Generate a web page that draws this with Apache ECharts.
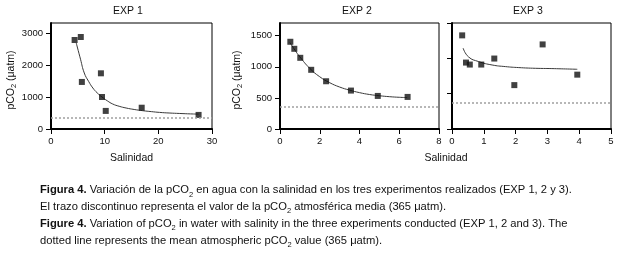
<!DOCTYPE html>
<html>
<head>
<meta charset="utf-8">
<script src="https://cdn.jsdelivr.net/npm/echarts@6/dist/echarts.min.js"></script>
<style>
  html, body { margin: 0; padding: 0; background: #fff; }
  #chart { width: 618px; height: 256px; }
</style>
</head>
<body>
<div id="chart"></div>
<script>
const exp1Sal = [4.4, 5.55, 5.75, 9.3, 9.5, 10.2, 16.9, 27.5]
const exp1Pco2 = [2780, 2875, 1470, 1740, 1000, 565, 665, 440]
const exp1FitSal = [4.7, 5.5, 6.2, 7.0, 7.8, 8.6, 9.5, 10.5, 11.5, 12.7, 14.0, 15.5, 17.1, 18.7, 20.2, 22, 24, 26, 27.5]
const exp1FitPco2 = [2690, 2180, 1750, 1490, 1281, 1130, 1000, 880, 781, 710, 656, 610, 572, 543, 519, 500, 485, 472, 465]

// EXP 2
const exp2Sal = [0.52, 0.72, 1.02, 1.57, 2.32, 3.57, 4.92, 6.42]
const exp2Pco2 = [1403, 1290, 1145, 952, 768, 618, 532, 516]
const exp2FitSal = [0.5, 0.75, 1.0, 1.5, 2.0, 2.5, 3.0, 3.5, 4.0, 4.5, 5.0, 5.5, 6.0, 6.4]
const exp2FitPco2 = [1390, 1270, 1160, 975, 840, 745, 675, 625, 585, 555, 535, 520, 510, 505]

// EXP 3
const exp3Sal = [0.32, 0.44, 0.56, 0.92, 1.33, 1.96, 2.85, 3.94]
const exp3Pco2 = [1325, 940, 912, 912, 997, 621, 1197, 769]
const exp3FitSal = [0.35, 0.52, 0.84, 1.26, 1.68, 2.1, 2.62, 3.14, 3.94]
const exp3FitPco2 = [1144, 1020, 954, 906, 883, 869, 859, 855, 845]

const atmPco2 = 365
const titles = ['EXP 1', 'EXP 2', 'EXP 3']

const font = "'Liberation Sans Narrow', 'Arial Narrow', 'Liberation Sans', Arial, sans-serif"
const pair = (xs, ys) => xs.map((x, i) => [x, ys[i]])

const grids = [
  { left: 51, top: 23, width: 161, height: 106 },
  { left: 280, top: 23, width: 159, height: 106 },
  { left: 452, top: 23, width: 159, height: 106 }
].map(g => Object.assign(g, { show: true, borderColor: '#000', borderWidth: 1, containLabel: false }))

function xAxis(idx, max, interval, name, nameStyle) {
  return {
    type: 'value', gridIndex: idx, min: 0, max: max, interval: interval,
    name: name, nameLocation: 'middle', nameGap: 24,
    nameTextStyle: Object.assign({ fontFamily: font, fontSize: 10.5, color: '#111' }, nameStyle || {}),
    axisLine: { show: true, lineStyle: { color: '#000', width: 2 } },
    axisTick: { show: true, length: 5, lineStyle: { color: '#000', width: 1 } },
    axisLabel: { fontFamily: font, fontSize: 9.5, color: '#111', margin: 7, formatter: v => String(v) },
    splitLine: { show: false }
  }
}

function yAxis(idx, max, showLabel, nameGap) {
  return {
    type: 'value', gridIndex: idx, min: 0, max: max, interval: 500,
    name: showLabel ? 'pCO{s|2} (μatm)' : '', nameLocation: 'middle', nameGap: nameGap,
    nameTextStyle: {
      fontFamily: font, fontSize: 10.5, color: '#111', lineHeight: 13, padding: [0, 8, 0, 0],
      rich: { s: { fontFamily: font, fontSize: 7.5, lineHeight: 8, verticalAlign: 'bottom', color: '#111' } }
    },
    axisLine: { show: true, lineStyle: { color: '#000', width: 2 } },
    axisTick: { show: true, length: 5, lineStyle: { color: '#000', width: 1 } },
    axisLabel: { show: showLabel, fontFamily: font, fontSize: 9.5, color: '#111', margin: 8, formatter: v => String(v) },
    splitLine: { show: false }
  }
}

const yAxes = [yAxis(0, 3312, true, 32), yAxis(1, 1705, true, 36), yAxis(2, 1500, false, 30)]
// EXP 1 ticks every 1000
yAxes[0].interval = 1000
yAxes[0].axisTick.customValues = [0, 1000, 2000, 3000]
yAxes[0].axisLabel.customValues = [0, 1000, 2000, 3000]
yAxes[1].axisTick.customValues = [0, 500, 1000, 1500]
yAxes[1].axisLabel.customValues = [0, 500, 1000, 1500]

const xAxes = [
  xAxis(0, 30, 10, 'Salinidad'),
  xAxis(1, 8, 2, ''),
  xAxis(2, 5, 1, 'Salinidad', { padding: [0, 171, 0, 0] })
]

function fitSeries(idx, xs, ys) {
  return {
    type: 'line', xAxisIndex: idx, yAxisIndex: idx, data: pair(xs, ys),
    smooth: true, showSymbol: false, silent: true, z: 2,
    lineStyle: { color: '#3a3a3a', width: 1 },
    markLine: {
      silent: true, symbol: ['none', 'none'], label: { show: false },
      lineStyle: { color: '#a0a0a0', type: [2, 2], width: 1.5 },
      data: [{ yAxis: atmPco2 }]
    }
  }
}

function pointSeries(idx, xs, ys) {
  return {
    type: 'scatter', xAxisIndex: idx, yAxisIndex: idx, data: pair(xs, ys),
    symbol: 'rect', symbolSize: 6, z: 3,
    itemStyle: { color: '#111' }
  }
}

const caption =
  '{b|Figura 4.} Variación de la pCO{s|2} en agua con la salinidad en los tres experimentos realizados (EXP 1, 2 y 3).\n' +
  'El trazo discontinuo representa el valor de la pCO{s|2} atmosférica media (365 μatm).\n' +
  '{b|Figure 4.} Variation of pCO{s|2} in water with salinity in the three experiments conducted (EXP 1, 2 and 3). The\n' +
  'dotted line represents the mean atmospheric pCO{s|2} value (365 μatm).'

const capSize = 11.2
const titleFont = '10.5px ' + font

const chart = echarts.init(document.getElementById('chart'))
chart.setOption({
  animation: false,
  backgroundColor: '#fff',
  grid: grids,
  xAxis: xAxes,
  yAxis: yAxes,
  series: [
    fitSeries(0, exp1FitSal, exp1FitPco2), pointSeries(0, exp1Sal, exp1Pco2),
    fitSeries(1, exp2FitSal, exp2FitPco2), pointSeries(1, exp2Sal, exp2Pco2),
    fitSeries(2, exp3FitSal, exp3FitPco2), pointSeries(2, exp3Sal, exp3Pco2)
  ],
  graphic: [
    { type: 'text', x: 128, y: 6, style: { text: titles[0], align: 'center', font: titleFont, fill: '#111' } },
    { type: 'text', x: 357, y: 6, style: { text: titles[1], align: 'center', font: titleFont, fill: '#111' } },
    { type: 'text', x: 528, y: 6, style: { text: titles[2], align: 'center', font: titleFont, fill: '#111' } },
    {
      type: 'text', x: 40, y: 182,
      style: {
        text: caption, font: capSize + 'px ' + font, fill: '#111', lineHeight: 16.7,
        rich: {
          b: { fontFamily: font, fontSize: capSize, fontWeight: 'bold', lineHeight: 16.7, fill: '#111' },
          s: { fontFamily: font, fontSize: 7.5, lineHeight: 10, verticalAlign: 'bottom', fill: '#111' }
        }
      }
    }
  ]
})
</script>
</body>
</html>
